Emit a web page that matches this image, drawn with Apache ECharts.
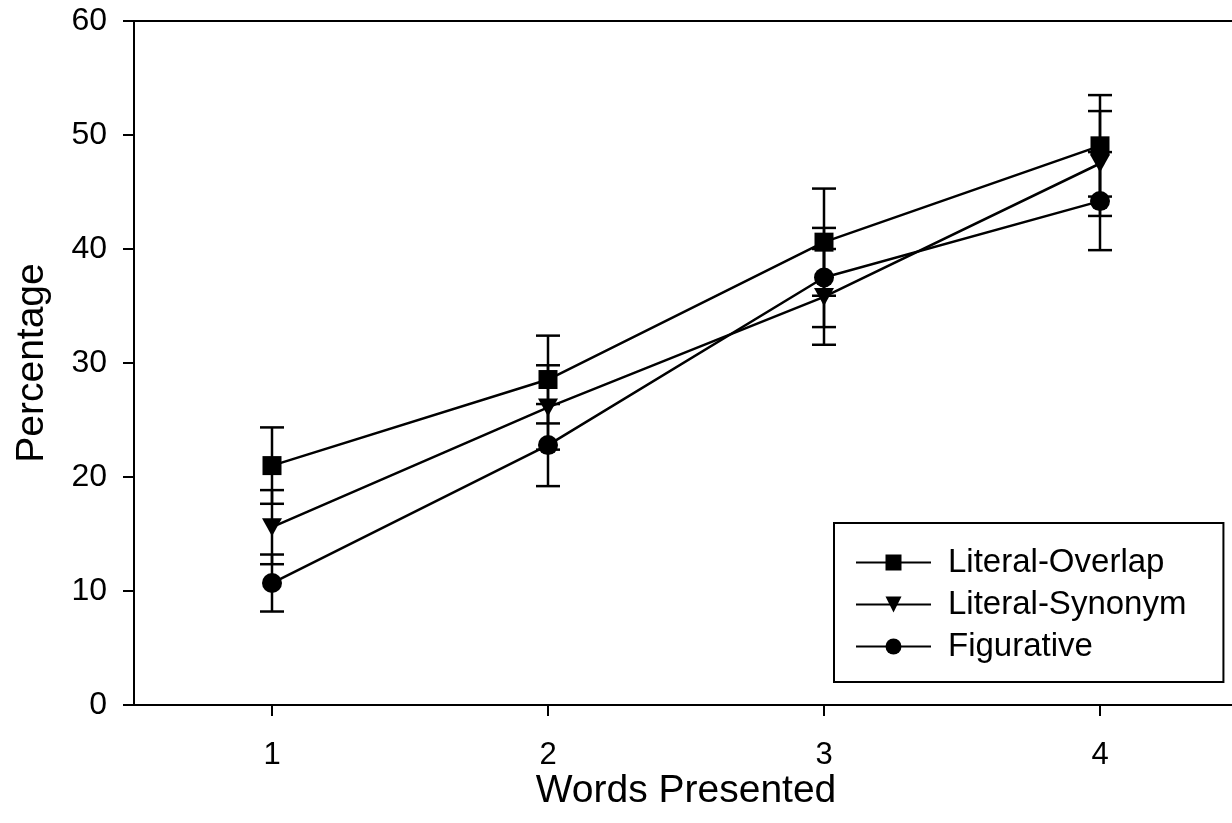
<!DOCTYPE html>
<html>
<head>
<meta charset="utf-8">
<script src="https://cdn.jsdelivr.net/npm/echarts@6/dist/echarts.min.js"></script>
<style>
html,body{margin:0;padding:0;background:#fff;}
#chart{width:1232px;height:823px;}
</style>
</head>
<body>
<div id="chart"></div>
<script>
const categories = ['1', '2', '3', '4'];
const overlapMean = [21.0, 28.55, 40.6, 49.05];
const overlapErr = [3.35, 3.85, 4.7, 4.45];
const synonymMean = [15.6, 26.1, 35.8, 47.5];
const synonymErr = [3.25, 3.7, 4.2, 4.6];
const figurativeMean = [10.7, 22.8, 37.5, 44.2];
const figurativeErr = [2.5, 3.6, 4.35, 4.3];
const yTicks = [0, 10, 20, 30, 40, 50, 60];

const FONT = 'Liberation Sans, Arial, Helvetica, sans-serif';

function errSeries(name, means, errs) {
  return {
    type: 'custom',
    name: name + ' err',
    z: 3,
    silent: true,
    clip: false,
    data: means.map((m, i) => [i, m, errs[i]]),
    renderItem: function (params, api) {
      const i = api.value(0), m = api.value(1), e = api.value(2);
      const hi = api.coord([i, m + e]);
      const lo = api.coord([i, m - e]);
      const hw = 12;
      const st = { stroke: '#000', lineWidth: 2.5 };
      return {
        type: 'group',
        children: [
          { type: 'line', shape: { x1: hi[0], y1: hi[1], x2: lo[0], y2: lo[1] }, style: st },
          { type: 'line', shape: { x1: hi[0] - hw, y1: hi[1], x2: hi[0] + hw, y2: hi[1] }, style: st },
          { type: 'line', shape: { x1: lo[0] - hw, y1: lo[1], x2: lo[0] + hw, y2: lo[1] }, style: st }
        ]
      };
    }
  };
}

function lineSeries(name, means, symbol, size, rotate) {
  return {
    type: 'line',
    name: name,
    data: means,
    symbol: symbol,
    symbolSize: size,
    symbolRotate: rotate || 0,
    showAllSymbol: true,
    z: 5,
    lineStyle: { color: '#000', width: 2.5 },
    itemStyle: { color: '#000', borderWidth: 0 },
    emphasis: { disabled: true }
  };
}

const chart = echarts.init(document.getElementById('chart'), null, { renderer: 'canvas' });
chart.setOption({
  animation: false,
  backgroundColor: '#fff',
  grid: {
    left: 134, top: 21, right: -6, bottom: 118,
    containLabel: false,
    outerBoundsMode: 'none',
    show: true, borderColor: '#000', borderWidth: 2, backgroundColor: 'transparent'
  },
  legend: {
    orient: 'vertical',
    left: 834,
    top: 523,
    padding: [23, 37, 19, 21],
    itemGap: 9,
    itemWidth: 75,
    itemHeight: 20,
    borderColor: '#000',
    borderWidth: 2,
    backgroundColor: '#fff',
    data: ['Literal-Overlap', 'Literal-Synonym', 'Figurative'],
    textStyle: { fontFamily: FONT, fontSize: 33, color: '#000', padding: [0, 0, 0, 12] }
  },
  xAxis: {
    type: 'category',
    data: categories,
    boundaryGap: true,
    name: 'Words Presented',
    nameLocation: 'middle',
    nameGap: 67,
    nameMoveOverlap: false,
    nameTextStyle: { fontFamily: FONT, fontSize: 39, color: '#000' },
    axisLine: { lineStyle: { color: '#000', width: 2 } },
    axisTick: { show: true, alignWithLabel: true, length: 11, lineStyle: { color: '#000', width: 2 } },
    axisLabel: { fontFamily: FONT, fontSize: 31, color: '#000', margin: 35 },
    splitLine: { show: false }
  },
  yAxis: {
    type: 'value',
    min: yTicks[0],
    max: yTicks[yTicks.length - 1],
    interval: 10,
    name: 'Percentage',
    nameLocation: 'middle',
    nameGap: 82,
    nameMoveOverlap: false,
    nameTextStyle: { fontFamily: FONT, fontSize: 39, color: '#000' },
    axisLine: { show: true, lineStyle: { color: '#000', width: 2 } },
    axisTick: { show: true, length: 11, lineStyle: { color: '#000', width: 2 } },
    axisLabel: { fontFamily: FONT, fontSize: 32, color: '#000', margin: 27 },
    splitLine: { show: false }
  },
  series: [
    errSeries('Literal-Overlap', overlapMean, overlapErr),
    errSeries('Literal-Synonym', synonymMean, synonymErr),
    errSeries('Figurative', figurativeMean, figurativeErr),
    lineSeries('Literal-Overlap', overlapMean, 'rect', 19),
    lineSeries('Literal-Synonym', synonymMean, 'triangle', [20, 18], 180),
    lineSeries('Figurative', figurativeMean, 'circle', 20)
  ]
});
</script>
</body>
</html>
